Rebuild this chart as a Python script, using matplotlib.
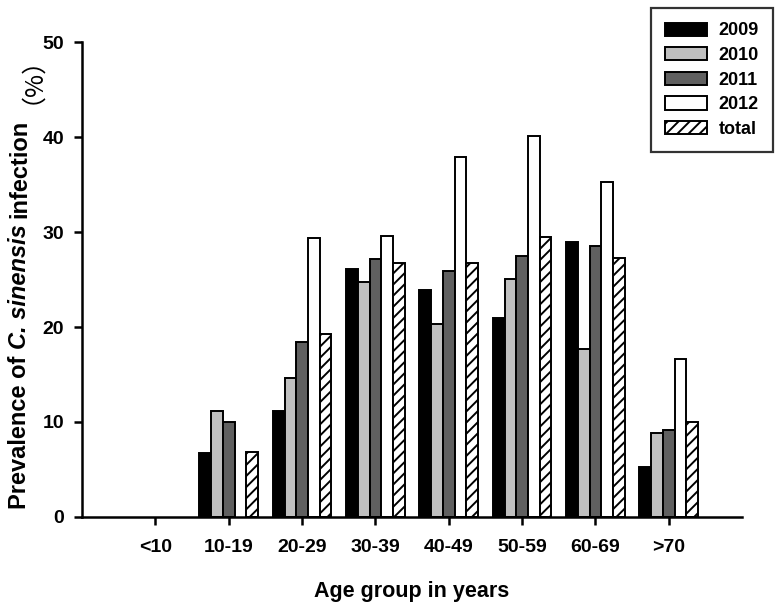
import matplotlib
matplotlib.use("Agg")
import matplotlib.pyplot as plt
import numpy as np

plt.rcParams['font.family'] = ['Liberation Sans', 'Noto Sans CJK SC', 'DejaVu Sans']
plt.rcParams['font.weight'] = 'bold'
plt.rcParams['hatch.linewidth'] = 1.4

groups = ["<10", "10-19", "20-29", "30-39", "40-49", "50-59", "60-69", ">70"]
series = ["2009", "2010", "2011", "2012", "total"]
v2009 = [0, 6.7, 11.2, 26.1, 23.9, 21.0, 28.9, 5.3]
v2010 = [0, 11.2, 14.6, 24.7, 20.3, 25.1, 17.7, 8.8]
v2011 = [0, 10.0, 18.4, 27.2, 25.9, 27.5, 28.5, 9.2]
v2012 = [0, 0, 29.4, 29.6, 37.9, 40.1, 35.3, 16.6]
vtotal = [0, 6.8, 19.3, 26.7, 26.7, 29.5, 27.3, 10.0]

colors = ["#000000", "#c0c0c0", "#606060", "#ffffff", "#ffffff"]
hatches = [None, None, None, None, "///"]

fig = plt.figure(figsize=(7.82, 6.05), dpi=100)
ax = fig.add_axes([0.105, 0.1455, 0.844, 0.785])

x = np.arange(len(groups))
w = 0.16
for i, (name, vals) in enumerate(zip(series, [v2009, v2010, v2011, v2012, vtotal])):
    pos = x + (i - 2) * w
    vv = np.array(vals, dtype=float)
    m = vv > 0
    ax.bar(pos[m], vv[m], width=w, color=colors[i], edgecolor="black",
           linewidth=1.4, hatch=hatches[i], label=name)

ax.set_xlim(-1, 8)
ax.set_ylim(0, 50)
ax.set_yticks([0, 10, 20, 30, 40, 50])
ax.set_xticks(x)
ax.set_xticklabels(groups)
ax.spines['top'].set_visible(False)
ax.spines['right'].set_visible(False)
ax.spines['left'].set_linewidth(1.8)
ax.spines['bottom'].set_linewidth(1.8)
ax.tick_params(axis='y', direction='out', length=6, width=1.8, labelsize=14, pad=7)
ax.tick_params(axis='x', direction='out', length=6, width=1.8, labelsize=14, pad=10)

ax.set_xlabel("Age group in years", fontsize=15.5, fontweight='bold', labelpad=18)

W = fig.get_figwidth() * fig.dpi
H = fig.get_figheight() * fig.dpi

handles, labels = ax.get_legend_handles_labels()
leg = fig.legend(handles, labels, loc='upper right', bbox_to_anchor=(773 / W, 1 - 8 / H),
                 fontsize=13, frameon=True, fancybox=False, edgecolor='black',
                 handlelength=2.35, handleheight=0.75, labelspacing=0.42,
                 borderpad=0.8, borderaxespad=0, handletextpad=0.6)
leg.get_frame().set_linewidth(1.6)
for t in leg.get_texts():
    t.set_fontweight('bold')

fig.canvas.draw()
renderer = fig.canvas.get_renderer()

# nudge the legend so its frame sits at the reference corner
bb = leg.get_window_extent(renderer)
dx = 773 - bb.x1
dy = (H - 8) - bb.y1
leg.set_bbox_to_anchor(((773 + dx) / W, (H - 8 + dy) / H), transform=fig.transFigure)

# y label built from pieces: normal, italic, normal, full-width parens
pieces = [("Prevalence of", 'normal', 'bold', 'Liberation Sans', 17, 6.5),
          ("C. sinensis", 'italic', 'bold', 'Liberation Sans', 17, 6.5),
          ("infection", 'normal', 'bold', 'Liberation Sans', 17, 15),
          ("（%）", 'normal', 'normal', 'Noto Sans CJK SC', 18, 0)]
texts = []
total = 0
for s, style, weight, fam, fs, gap in pieces:
    t = fig.text(0, 0, s, rotation=90, rotation_mode='anchor', ha='left', va='baseline',
                 fontsize=fs, fontweight=weight, fontstyle=style, family=[fam, 'DejaVu Sans'])
    h = t.get_window_extent(renderer).height
    texts.append((t, h, gap))
    total += h + gap
ypos = (605 - 270) - total / 2.0
for t, h, gap in texts:
    t.set_position((26 / W, ypos / H))
    ypos += h + gap

fig.savefig("out.png", dpi=100)
